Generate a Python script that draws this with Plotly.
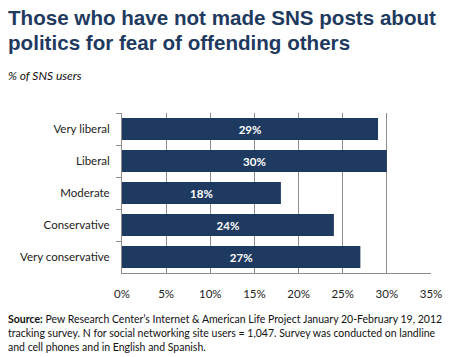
import plotly.graph_objects as go

categories = ["Very liberal", "Liberal", "Moderate", "Conservative", "Very conservative"]
values = [29, 30, 18, 24, 27]
tick_vals = [0, 5, 10, 15, 20, 25, 30, 35]
tick_text = ["0%", "5%", "10%", "15%", "20%", "25%", "30%", "35%"]

title_lines = ["Those who have not made SNS posts about", "politics for fear of offending others"]
subtitle = "% of SNS users"
source_lines = [
    "<b>Source:</b> Pew Research Center\u2019s Internet &amp; American Life Project January 20-February 19, 2012",
    "tracking survey. N for social networking site users = 1,047. Survey was conducted on landline",
    "and cell phones and in English and Spanish.",
]

BAR = "#1f3a60"
FONT = "Lato"
W, H = 460, 357
ML, MR, MT, MB = 122, 29, 113, 84

fig = go.Figure(go.Bar(
    x=values, y=categories, orientation="h",
    marker=dict(color=BAR, line=dict(width=0)),
    text=[f"{v}%" for v in values], textposition="inside", insidetextanchor="middle",
    textfont=dict(color="white", size=11.5, family=FONT, weight="bold"),
    width=0.69,
))

fig.update_layout(
    width=W, height=H,
    margin=dict(l=ML, r=MR, t=MT, b=MB),
    paper_bgcolor="white", plot_bgcolor="white",
    showlegend=False,
    font=dict(family=FONT, size=11, color="#222"),
)
fig.update_xaxes(
    range=[0, 35], tickvals=tick_vals, ticktext=tick_text,
    showgrid=True, gridcolor="#8c8c8c", gridwidth=1,
    showline=True, linecolor="#8c8c8c", linewidth=1,
    ticks="", ticklabelstandoff=10,
    tickfont=dict(size=11.5, family=FONT, color="#222"), zeroline=False,
)
fig.update_yaxes(
    categoryorder="array", categoryarray=categories, autorange="reversed",
    showline=True, linecolor="#8c8c8c", linewidth=1,
    ticks="outside", tickson="boundaries", ticklen=5, tickcolor="#8c8c8c",
    tickfont=dict(size=11.5, family=FONT, color="#222"), ticklabelstandoff=9,
)

ph = H - MT - MB
pw = W - ML - MR

def px(x):
    return (x - ML) / pw

def py(y_top):
    # y measured in pixels from top of the figure
    return (H - y_top - MB) / ph

ann = []
for i, line in enumerate(title_lines):
    ann.append(dict(text=f"<b>{line}</b>", x=px(6), y=py(4 + i * 25), xref="paper", yref="paper",
                    showarrow=False, xanchor="left", yanchor="top",
                    font=dict(family="Liberation Sans", size=20.6, color="#1f3a5f")))
ann.append(dict(text=f"<i>{subtitle}</i>", x=px(6), y=py(66), xref="paper", yref="paper",
                showarrow=False, xanchor="left", yanchor="top",
                font=dict(family=FONT, size=12, color="#111")))
for i, line in enumerate(source_lines):
    ann.append(dict(text=line, x=px(6), y=py(311 + i * 14), xref="paper", yref="paper",
                    showarrow=False, xanchor="left", yanchor="top",
                    font=dict(family=FONT, size=10.5, color="#111")))
fig.update_layout(annotations=ann)

fig.write_html("out.html", config={"displayModeBar": False},
               post_script="document.body.style.margin='0';document.body.style.padding='0';")
